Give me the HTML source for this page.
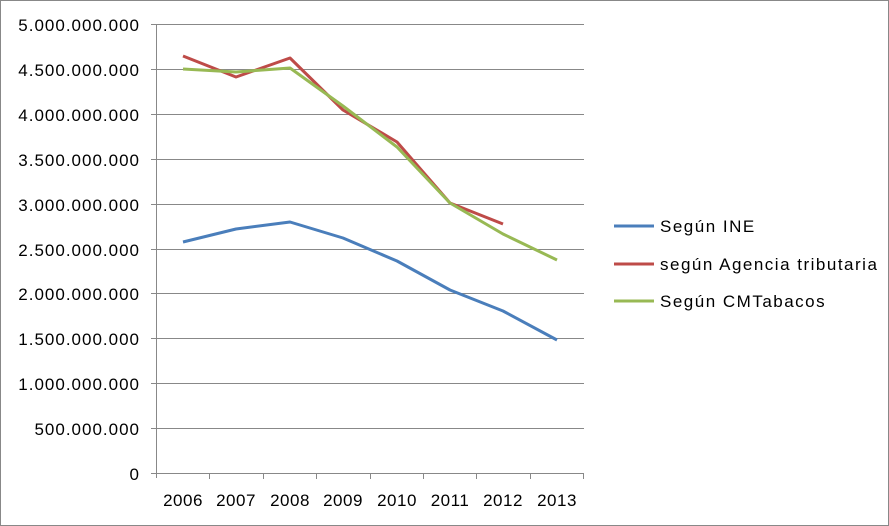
<!DOCTYPE html>
<html><head><style>body{margin:0;background:#fff}svg{display:block}text{font-family:"Liberation Sans",sans-serif;font-size:17px;fill:#000}</style></head><body>
<svg width="889" height="526" xmlns="http://www.w3.org/2000/svg">
<rect x="0.5" y="0.5" width="888" height="525" fill="#fff" stroke="#888"/>
<g stroke="#888" stroke-width="1">
<line x1="156" y1="24.5" x2="584" y2="24.5"/><line x1="156" y1="69.5" x2="584" y2="69.5"/><line x1="156" y1="114.5" x2="584" y2="114.5"/><line x1="156" y1="159.5" x2="584" y2="159.5"/><line x1="156" y1="204.5" x2="584" y2="204.5"/><line x1="156" y1="249.5" x2="584" y2="249.5"/><line x1="156" y1="293.5" x2="584" y2="293.5"/><line x1="156" y1="338.5" x2="584" y2="338.5"/><line x1="156" y1="383.5" x2="584" y2="383.5"/><line x1="156" y1="428.5" x2="584" y2="428.5"/><line x1="151" y1="473.5" x2="584" y2="473.5"/>
<line x1="156.5" y1="24" x2="156.5" y2="478"/>
<line x1="151" y1="24.5" x2="156" y2="24.5"/><line x1="151" y1="69.5" x2="156" y2="69.5"/><line x1="151" y1="114.5" x2="156" y2="114.5"/><line x1="151" y1="159.5" x2="156" y2="159.5"/><line x1="151" y1="204.5" x2="156" y2="204.5"/><line x1="151" y1="249.5" x2="156" y2="249.5"/><line x1="151" y1="293.5" x2="156" y2="293.5"/><line x1="151" y1="338.5" x2="156" y2="338.5"/><line x1="151" y1="383.5" x2="156" y2="383.5"/><line x1="151" y1="428.5" x2="156" y2="428.5"/>
<line x1="209.5" y1="473" x2="209.5" y2="479"/><line x1="263.5" y1="473" x2="263.5" y2="479"/><line x1="316.5" y1="473" x2="316.5" y2="479"/><line x1="370.5" y1="473" x2="370.5" y2="479"/><line x1="423.5" y1="473" x2="423.5" y2="479"/><line x1="476.5" y1="473" x2="476.5" y2="479"/><line x1="530.5" y1="473" x2="530.5" y2="479"/><line x1="583.5" y1="473" x2="583.5" y2="479"/>
</g>
<g text-anchor="end" letter-spacing="1">
<text x="140" y="31">5.000.000.000</text><text x="140" y="76">4.500.000.000</text><text x="140" y="121">4.000.000.000</text><text x="140" y="166">3.500.000.000</text><text x="140" y="211">3.000.000.000</text><text x="140" y="256">2.500.000.000</text><text x="140" y="300">2.000.000.000</text><text x="140" y="345">1.500.000.000</text><text x="140" y="390">1.000.000.000</text><text x="140" y="435">500.000.000</text><text x="140" y="480">0</text>
</g>
<g text-anchor="middle" letter-spacing="0.5">
<text x="183" y="506">2006</text><text x="236" y="506">2007</text><text x="290" y="506">2008</text><text x="343" y="506">2009</text><text x="397" y="506">2010</text><text x="450" y="506">2011</text><text x="503" y="506">2012</text><text x="557" y="506">2013</text>
</g>
<g fill="none" stroke-width="3" stroke-linejoin="round">
<polyline stroke="#4a7ebb" points="183,242 236,229 290,222 343,238 397,261 450,290 503,311 557,340"/>
<polyline stroke="#be4b48" points="183,56 236,77 290,58 343,110 397,142 450,203 503,224"/>
<polyline stroke="#98b954" points="183,69 236,72 290,68 343,106 397,147 450,203 503,234 557,260"/>
</g>
<line x1="614" y1="226" x2="654" y2="226" stroke="#4a7ebb" stroke-width="3"/>
<line x1="614" y1="264" x2="654" y2="264" stroke="#be4b48" stroke-width="3"/>
<line x1="614" y1="301" x2="654" y2="301" stroke="#98b954" stroke-width="3"/>
<g letter-spacing="1.5">
<text x="660" y="232">Según INE</text>
<text x="660" y="270">según Agencia tributaria</text>
<text x="660" y="307">Según CMTabacos</text>
</g>
</svg>
</body></html>
